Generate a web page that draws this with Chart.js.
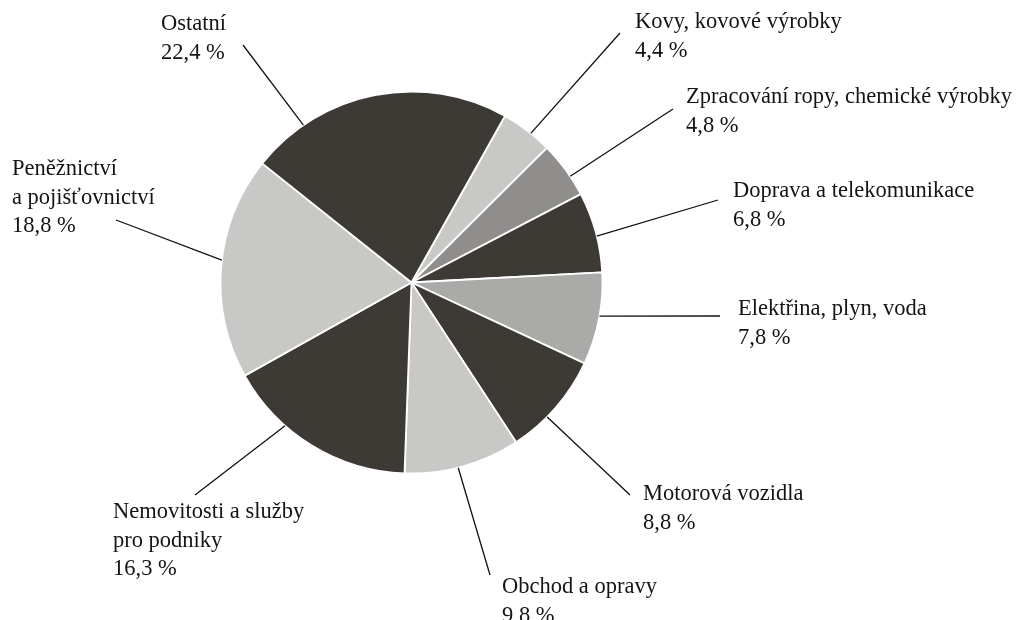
<!DOCTYPE html>
<html lang="cs">
<head>
<meta charset="utf-8">
<title>Struktura podle odvětví</title>
<script src="https://cdn.jsdelivr.net/npm/chart.js@4"></script>
<style>
  html, body { margin: 0; padding: 0; background: #fff; }
  canvas { display: block; }
</style>
</head>
<body>
<canvas id="chart" width="1029" height="620"></canvas>
<script>
// Odvětví (po směru hodinových ručiček, od horního okraje)
const categories = [
  ['Kovy, kovové výrobky'],
  ['Zpracování ropy, chemické výrobky'],
  ['Doprava a telekomunikace'],
  ['Elektřina, plyn, voda'],
  ['Motorová vozidla'],
  ['Obchod a opravy'],
  ['Nemovitosti a služby', 'pro podniky'],
  ['Peněžnictví', 'a pojišťovnictví'],
  ['Ostatní']
];

// Podíly v procentech
const shares = [4.4, 4.8, 6.8, 7.8, 8.8, 9.8, 16.3, 18.8, 22.4];

const sliceColors = ['#c8c8c6', '#8f8e8c', '#3d3a36', '#aaaaa8', '#3d3a36',
                     '#c8c8c6', '#3d3a36', '#c8c8c6', '#3d3a36'];

// Umístění popisků: text (levý okraj, účaří prvního řádku),
// konec vodicí čáry a místo na oblouku, odkud čára vychází (0..1)
const labelLayout = [
  { x: 635, y: 28,  endX: 620, endY: 33,  t: 0.59 },
  { x: 686, y: 103, endX: 673, endY: 109, t: 0.64 },
  { x: 733, y: 197, endX: 718, endY: 200, t: 0.55 },
  { x: 738, y: 315, endX: 720, endY: 316, t: 0.47 },
  { x: 643, y: 500, endX: 630, endY: 495, t: 0.62 },
  { x: 502, y: 593, endX: 490, endY: 575, t: 0.54 },
  { x: 113, y: 518, endX: 195, endY: 495, t: 0.67 },
  { x: 12,  y: 175, endX: 116, endY: 220, t: 0.53 },
  { x: 161, y: 30,  endX: 243, endY: 45,  t: 0.21 }
];

const formatShare = v => v.toFixed(1).replace('.', ',') + ' %';

// popisky s vodicími čarami
const leaderLabels = {
  id: 'leaderLabels',
  afterDraw(chart) {
    const ctx = chart.ctx;
    const arcs = chart.getDatasetMeta(0).data;
    ctx.save();
    ctx.font = '22.5px "Liberation Serif", "Times New Roman", serif';
    ctx.fillStyle = '#141414';
    ctx.strokeStyle = '#111';
    ctx.lineWidth = 1.3;
    ctx.textAlign = 'left';
    ctx.textBaseline = 'alphabetic';
    arcs.forEach((arc, i) => {
      const p = arc.getProps(['x', 'y', 'startAngle', 'endAngle', 'outerRadius'], true);
      const lay = labelLayout[i];
      const a = p.startAngle + lay.t * (p.endAngle - p.startAngle);
      const sx = p.x + Math.cos(a) * p.outerRadius;
      const sy = p.y + Math.sin(a) * p.outerRadius;
      ctx.beginPath();
      ctx.moveTo(sx, sy);
      ctx.lineTo(lay.endX, lay.endY);
      ctx.stroke();

      const lines = categories[i].concat([formatShare(shares[i])]);
      lines.forEach((line, k) => {
        ctx.fillText(line, lay.x, lay.y + k * 28.5);
      });
    });
    ctx.restore();
  }
};

new Chart(document.getElementById('chart'), {
  type: 'pie',
  data: {
    labels: categories.map(c => c.join(' ')),
    datasets: [{
      data: shares,
      backgroundColor: sliceColors,
      borderColor: '#ffffff',
      borderWidth: 1.8,
      radius: 191
    }]
  },
  options: {
    responsive: false,
    animation: false,
    rotation: 29.3,
    layout: { padding: { left: 0, right: 206, top: 0, bottom: 55 } },
    plugins: {
      legend: { display: false },
      tooltip: { enabled: false }
    }
  },
  plugins: [leaderLabels]
});
</script>
</body>
</html>
